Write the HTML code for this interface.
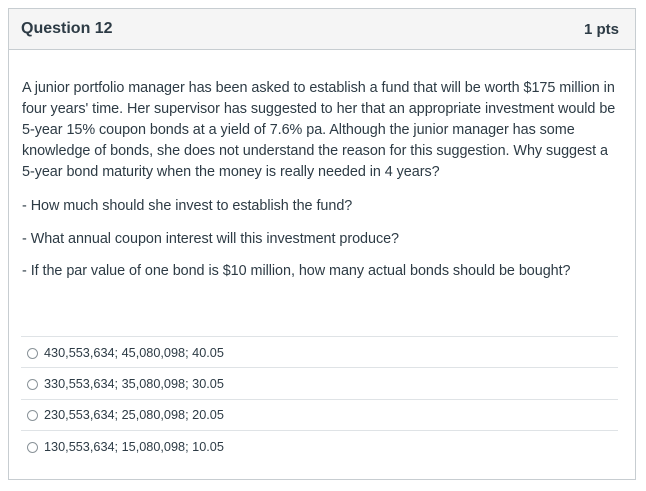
<!DOCTYPE html>
<html><head><meta charset="utf-8"><style>
body{margin:0;width:646px;height:491px;background:#fff;font-family:"Liberation Sans",sans-serif;color:#2d3b45;position:relative;overflow:hidden}
.card{position:absolute;left:8px;top:8px;width:628px;height:472px;border:1px solid #c7cdd1;box-sizing:border-box}
.hdr{height:40px;background:#f5f5f5;border-bottom:1px solid #c7cdd1;position:relative}
.hdr .t{position:absolute;left:12px;top:11px;font-weight:bold;font-size:16px}
.hdr .p{position:absolute;right:16px;top:12px;font-weight:bold;font-size:15px;color:#2d3b45}
.ln{position:absolute;left:13px;white-space:nowrap;font-size:14.4px;letter-spacing:-0.05px}
.sep{position:absolute;left:12px;width:597px;height:1px;background:#dfe3e6}
.opt{position:absolute;left:18px;font-size:12.7px;white-space:nowrap;display:flex;align-items:center}
.rad{width:11px;height:11px;border:1px solid #8a9399;border-radius:50%;margin-right:6px;box-sizing:border-box}
</style></head><body>
<div class="card">
<div class="hdr">
<span class="t">Question 12</span>
<span class="p">1 pts</span>
</div>
<div>
<div class="ln" style="top:71px">A junior portfolio manager has been asked to establish a fund that will be worth $175 million in</div>
<div class="ln" style="top:92px">four years' time. Her supervisor has suggested to her that an appropriate investment would be</div>
<div class="ln" style="top:113px">5-year 15% coupon bonds at a yield of 7.6% pa. Although the junior manager has some</div>
<div class="ln" style="top:134px">knowledge of bonds, she does not understand the reason for this suggestion. Why suggest a</div>
<div class="ln" style="top:155px">5-year bond maturity when the money is really needed in 4 years?</div>
<div class="ln" style="top:189px">- How much should she invest to establish the fund?</div>
<div class="ln" style="top:222px">- What annual coupon interest will this investment produce?</div>
<div class="ln" style="top:254px">- If the par value of one bond is $10 million, how many actual bonds should be bought?</div>
</div>
<div class="sep" style="top:327px"></div>
<label class="opt" style="top:337px"><span class="rad"></span>430,553,634; 45,080,098; 40.05</label>
<div class="sep" style="top:358px"></div>
<label class="opt" style="top:368px"><span class="rad"></span>330,553,634; 35,080,098; 30.05</label>
<div class="sep" style="top:390px"></div>
<label class="opt" style="top:399px"><span class="rad"></span>230,553,634; 25,080,098; 20.05</label>
<div class="sep" style="top:421px"></div>
<label class="opt" style="top:431px"><span class="rad"></span>130,553,634; 15,080,098; 10.05</label>
</div>
</body></html>
